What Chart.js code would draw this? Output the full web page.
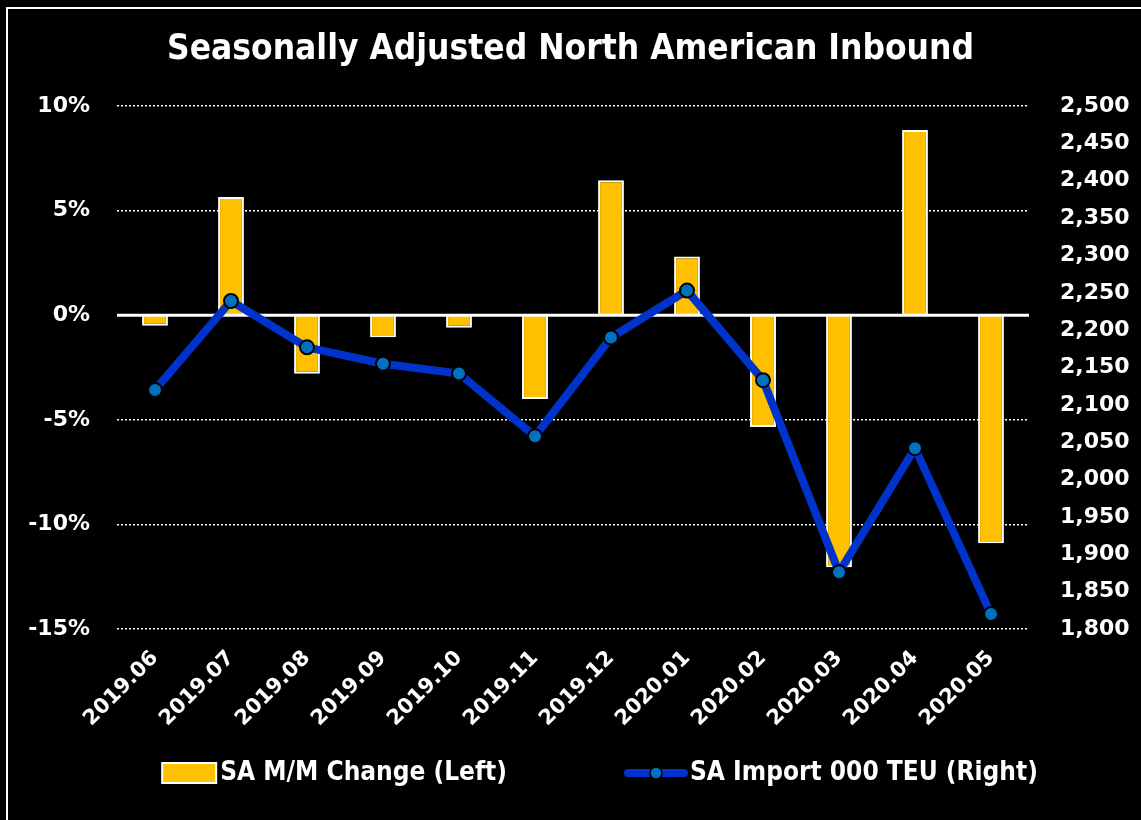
<!DOCTYPE html>
<html>
<head>
<meta charset="utf-8">
<script src="https://cdn.jsdelivr.net/npm/chart.js@4/dist/chart.umd.min.js"></script>
<style>
  html, body { margin: 0; padding: 0; background: #000; overflow: hidden; }
  #frame { position: absolute; left: 6px; top: 7px; width: 1200px; height: 900px; border: 2px solid #fff; }
  #wrap { position: absolute; left: 0; top: 0; width: 1141px; height: 820px; }
</style>
</head>
<body>
<div id="frame"></div>
<div id="wrap"><canvas id="seasonalChart"></canvas></div>
<script>
const months = ['2019.06', '2019.07', '2019.08', '2019.09', '2019.10', '2019.11',
                '2019.12', '2020.01', '2020.02', '2020.03', '2020.04', '2020.05'];
// SA M/M change, percent (left axis)
const mmChange = [-0.5, 5.65, -2.8, -1.05, -0.6, -4.0, 6.45, 2.8, -5.35, -12.05, 8.85, -10.9];
// SA import, 000 TEU (right axis)
const importTeu = [2120, 2239, 2177, 2155, 2142, 2058, 2190, 2253, 2133, 1876, 2042, 1820];
const seriesNames = ['SA M/M Change (Left)', 'SA Import 000 TEU (Right)'];

const gold = '#FFC000';
const lineBlue = '#0033CC';
const dotBlue = '#0070C0';
const narrow = '"Liberation Sans Narrow", "DejaVu Sans Condensed", sans-serif';
const wide = '"DejaVu Sans", sans-serif';

// legend symbols, content drawn at the right end of the canvas
const symBox = 104;
const symW = symBox + 22, symH = 24;
const barSym = document.createElement('canvas');
barSym.width = symW; barSym.height = symH;
(() => {
    const c = barSym.getContext('2d');
    c.fillStyle = gold;
    c.fillRect(symW - 56, 2, 54, 20);
    c.strokeStyle = '#fff';
    c.lineWidth = 2;
    c.strokeRect(symW - 56, 2, 54, 20);
})();
const lineSym = document.createElement('canvas');
lineSym.width = symW; lineSym.height = symH;
(() => {
    const c = lineSym.getContext('2d');
    c.strokeStyle = lineBlue;
    c.lineWidth = 8;
    c.lineCap = 'round';
    c.beginPath();
    c.moveTo(symW - 60, 12);
    c.lineTo(symW - 4, 12);
    c.stroke();
    c.beginPath();
    c.arc(symW - 32, 12, 6, 0, Math.PI * 2);
    c.fillStyle = dotBlue;
    c.fill();
    c.lineWidth = 1.5;
    c.strokeStyle = '#000';
    c.stroke();
})();

const zeroLine = {
    id: 'zeroLine',
    // let the rotated month labels hang into the legend band without being clipped
    afterLayout(chart) {
        chart.scales.x.bottom = chart.height;
    },
    beforeDatasetDraw(chart, args) {
        if (args.index !== 1) return;
        const y = chart.scales.y.getPixelForValue(0);
        const ctx = chart.ctx;
        ctx.save();
        ctx.strokeStyle = '#fff';
        ctx.lineWidth = 3;
        ctx.beginPath();
        ctx.moveTo(chart.chartArea.left, y);
        ctx.lineTo(chart.chartArea.right, y);
        ctx.stroke();
        ctx.restore();
    }
};

const ctx = document.getElementById('seasonalChart').getContext('2d');
const chart = new Chart(ctx, {
    type: 'bar',
    data: {
        labels: months,
        datasets: [{
            type: 'bar',
            label: seriesNames[0],
            data: mmChange,
            backgroundColor: gold,
            borderColor: '#fff',
            borderWidth: 2,
            barPercentage: 0.34,
            categoryPercentage: 1,
            yAxisID: 'y',
            order: 1
        }, {
            type: 'line',
            label: seriesNames[1],
            data: importTeu,
            borderColor: lineBlue,
            borderWidth: 8,
            pointRadius: 7,
            pointBackgroundColor: dotBlue,
            pointBorderColor: '#000',
            pointBorderWidth: 2,
            tension: 0,
            yAxisID: 'y1',
            order: 0
        }]
    },
    options: {
        responsive: true,
        maintainAspectRatio: false,
        animation: false,
        layout: { padding: { left: 0, right: 0, top: 0, bottom: 24 } },
        plugins: {
            tooltip: { enabled: false },
            title: {
                display: true,
                text: 'Seasonally Adjusted North American Inbound',
                color: '#fff',
                font: { family: narrow, size: 35, weight: 'bold' },
                padding: { top: 29, bottom: 35 }
            },
            legend: {
                position: 'bottom',
                labels: {
                    color: '#fff',
                    font: { family: narrow, size: 26, weight: 'bold' },
                    usePointStyle: true,
                    pointStyleWidth: symBox,
                    padding: 66,
                    generateLabels: () => [
                        { text: seriesNames[0], pointStyle: barSym, fillStyle: gold, strokeStyle: '#fff', lineWidth: 0, fontColor: '#fff', datasetIndex: 0 },
                        { text: seriesNames[1], pointStyle: lineSym, fillStyle: dotBlue, strokeStyle: lineBlue, lineWidth: 0, fontColor: '#fff', datasetIndex: 1 }
                    ]
                }
            }
        },
        scales: {
            x: {
                grid: { display: false, drawTicks: false },
                border: { display: false },
                ticks: {
                    color: '#fff',
                    autoSkip: false,
                    minRotation: 45,
                    maxRotation: 45,
                    padding: 17,
                    font: { family: wide, size: 21, weight: 'bold' }
                },
                afterFit: (scale) => { scale.height = 65; }
            },
            y: {
                position: 'left',
                min: -15,
                max: 10,
                grid: {
                    color: (c) => c.tick && c.tick.value === 0 ? 'rgba(0,0,0,0)' : '#fff',
                    lineWidth: 1.5,
                    drawTicks: false
                },
                border: { display: false, dash: [2, 2] },
                ticks: {
                    stepSize: 5,
                    color: '#fff',
                    padding: 27,
                    font: { family: wide, size: 22, weight: 'bold' },
                    callback: (v) => v + '%'
                },
                afterFit: (scale) => { scale.width = 117; }
            },
            y1: {
                position: 'right',
                min: 1800,
                max: 2500,
                grid: { display: false, drawTicks: false },
                border: { display: false },
                ticks: {
                    stepSize: 50,
                    color: '#fff',
                    padding: 31,
                    font: { family: wide, size: 22, weight: 'bold' },
                    callback: (v) => v.toLocaleString('en-US')
                },
                afterFit: (scale) => { scale.width = 112; }
            }
        }
    },
    plugins: [zeroLine]
});
</script>
</body>
</html>
